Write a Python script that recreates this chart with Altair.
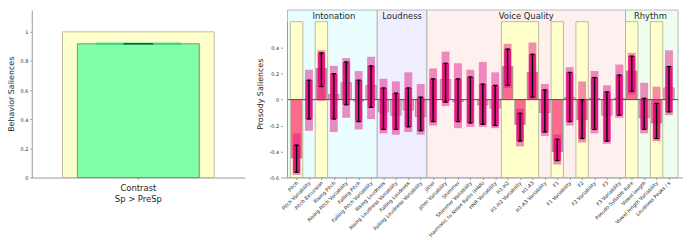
import json
import altair as alt
import pandas as pd

# ---------------- data ----------------
categories = [
    "Pitch", "Pitch Variability", "Pitch Excursion", "Rising Pitch",
    "Rising Pitch Variability", "Falling Pitch", "Falling Pitch Variability",
    "Rising Loudness", "Rising Loudness Variability", "Falling Loudness",
    "Falling Loudness Variability", "Jitter", "Jitter Variability", "Shimmer",
    "Shimmer Variability", "Harmonic to Noise Ratio (HNR)", "HNR Variability",
    "H1-H2", "H1-H2 Variability", "H1-A3", "H1-A3 Variability", "F1",
    "F1 Variability", "F2", "F2 Variability", "F3", "F3 Variability",
    "Pseudo Syllable Rate", "Vowel length", "Vowel length Variability",
    "Loudness Peaks / s",
]
means = [-0.45, 0.0, 0.24, 0.04, 0.13, -0.01, 0.11, -0.095, -0.12, -0.08, -0.13,
         0.0, 0.155, -0.015, 0.0, -0.04, -0.065, 0.255, -0.19, 0.21, -0.10,
         -0.40, 0.015, -0.155, 0.01, -0.12, 0.01, 0.22, -0.14, -0.18, 0.09]
err_lo = [-0.56, -0.15, 0.10, -0.15, -0.04, -0.17, -0.06, -0.23, -0.23, -0.21, -0.24,
          -0.17, -0.02, -0.17, -0.18, -0.19, -0.20, 0.11, -0.32, 0.02, -0.25,
          -0.47, -0.17, -0.30, -0.23, -0.32, -0.12, 0.065, -0.23, -0.30, -0.095]
err_hi = [-0.35, 0.15, 0.36, 0.20, 0.29, 0.15, 0.26, 0.09, 0.05, 0.09, 0.02,
          0.16, 0.28, 0.16, 0.175, 0.12, 0.11, 0.39, -0.105, 0.35, 0.075,
          -0.305, 0.21, 0.0, 0.17, 0.06, 0.19, 0.335, 0.01, -0.03, 0.255]
pt_min = [-0.58, -0.24, -0.01, -0.25, -0.14, -0.23, -0.15, -0.26, -0.27, -0.25, -0.27,
          -0.20, -0.05, -0.22, -0.21, -0.21, -0.22, 0.09, -0.36, 0.0, -0.28,
          -0.50, -0.20, -0.33, -0.26, -0.34, -0.14, 0.04, -0.26, -0.32, -0.12]
pt_max = [-0.26, 0.23, 0.38, 0.26, 0.32, 0.22, 0.33, 0.16, 0.14, 0.21, 0.12,
          0.24, 0.37, 0.28, 0.23, 0.29, 0.21, 0.43, -0.07, 0.44, 0.12,
          -0.27, 0.25, 0.14, 0.22, 0.11, 0.27, 0.36, 0.13, 0.10, 0.38]
highlight = [0, 2, 17, 18, 19, 21, 23, 27, 29]

groups = ["Intonation", "Loudness", "Voice Quality", "Rhythm"]
group_start = [0, 7, 11, 27]
group_end = [6, 10, 26, 30]
group_colors = ["#eafdff", "#eeeeff", "#fff0f0", "#eefff0"]

behavior_label = "Contrast|Sp > PreSp"
behavior_mean = 0.918
behavior_box = 1.0

y_ticks_right = [-0.6, -0.4, -0.2, 0, 0.2, 0.4]
y_ticks_left = [0, 0.2, 0.4, 0.6, 0.8, 1]

# ---------------- style ----------------
FONT = "DejaVu Sans"
TXT = "#262626"
AX = "#9a9a9a"
PINK_HI = "#ff6a8c"
PINK_LO = "#f7a6bf"
DOT = "#e0067c"

RW, RH = 404, 169
LW, LH = 215, 169

n = len(categories)
XMIN, XMAX = -0.73, n - 1 + 0.73
YMIN, YMAX = -0.6, 0.69
xs = alt.Scale(domain=[XMIN, XMAX], nice=False, zero=False)
ys = alt.Scale(domain=[YMIN, YMAX], nice=False, zero=False)

df = pd.DataFrame({
    "i": list(range(n)), "name": categories, "mean": means,
    "lo": err_lo, "hi": err_hi, "pmin": pt_min, "pmax": pt_max,
    "zero": [0.0] * n,
    "hl": ["yes" if i in highlight else "no" for i in range(n)],
})

bg = pd.DataFrame({
    "group": groups,
    "x1": [XMIN if k == 0 else s - 0.5 for k, s in enumerate(group_start)],
    "x2": [XMAX if k == len(groups) - 1 else e + 0.5 for k, e in enumerate(group_end)],
    "cx": [(s + e) / 2 for s, e in zip(group_start, group_end)],
    "y1": [YMIN] * len(groups), "y2": [YMAX] * len(groups),
    "ty": [(0.6 + YMAX) / 2] * len(groups), "col": group_colors,
})

runs = []
for h in sorted(highlight):
    if runs and runs[-1][1] == h - 1:
        runs[-1][1] = h
    else:
        runs.append([h, h])
hl_df = pd.DataFrame({
    "x1": [a - 0.5 for a, b in runs], "x2": [b + 0.5 for a, b in runs],
    "y1": [-0.6] * len(runs), "y2": [0.6] * len(runs),
})

lines_df = pd.DataFrame({"xa": [XMIN], "xb": [XMAX], "z": [0.0], "ya": [-0.6], "yb": [0.6]})

label_expr = json.dumps(categories) + "[round(datum.value)]"

x_axis = alt.Axis(values=list(range(n)), labelExpr=label_expr, labelAngle=-45,
                  labelAlign="right", labelBaseline="middle", labelFontSize=5.0,
                  labelPadding=2, tickSize=2, tickColor=AX, domainColor=AX,
                  labelColor=TXT, title=None, grid=False, labelOverlap=False,
                  labelBound=False, labelFlush=False)
y_axis = alt.Axis(values=y_ticks_right, labelExpr="toString(datum.value)",
                  labelFontSize=5, tickSize=2, tickColor=AX, domain=False,
                  labelColor=TXT, title="Prosody Saliences", titleFontSize=8,
                  titleFontWeight="normal", titleColor=TXT, titlePadding=4,
                  grid=False, labelPadding=2)


def X(f):
    return alt.X(f, scale=xs, axis=x_axis)


def Y(f):
    return alt.Y(f, scale=ys, axis=y_axis)


bg_layer = alt.Chart(bg).mark_rect(stroke="#a8a8a8", strokeWidth=0.8).encode(
    x=X("x1:Q"), x2="x2:Q", y=Y("y1:Q"), y2="y2:Q",
    color=alt.Color("col:N", scale=None),
)
hl_layer = alt.Chart(hl_df).mark_rect(fill="#ffffcc", stroke="#b9b394", strokeWidth=0.9).encode(
    x=X("x1:Q"), x2="x2:Q", y=Y("y1:Q"), y2="y2:Q",
)
bars = alt.Chart(df).mark_bar(width=10.5, stroke="#8c8c8c", strokeWidth=0.8).encode(
    x=X("i:Q"), y=Y("mean:Q"), y2="zero:Q",
    color=alt.Color("hl:N", scale=alt.Scale(domain=["yes", "no"], range=[PINK_HI, PINK_LO]), legend=None),
)
zero_line = alt.Chart(lines_df).mark_rule(color="#555555", strokeWidth=1).encode(
    x=X("xa:Q"), x2="xb:Q", y=Y("z:Q")
)
axis_line = alt.Chart(lines_df).mark_rule(color=AX, strokeWidth=1).encode(
    x=X("xa:Q"), y=Y("ya:Q"), y2="yb:Q"
)
cloud_outer = alt.Chart(df).mark_rule(strokeWidth=8, color=DOT, opacity=0.45, strokeCap="butt").encode(
    x=X("i:Q"), y=Y("pmin:Q"), y2="pmax:Q"
)
cloud_inner = alt.Chart(df).mark_rule(strokeWidth=7, color=DOT, opacity=0.85, strokeCap="butt").encode(
    x=X("i:Q"), y=Y("lo:Q"), y2="hi:Q"
)
err_v = alt.Chart(df).mark_rule(strokeWidth=1.4, color="black").encode(
    x=X("i:Q"), y=Y("lo:Q"), y2="hi:Q"
)
cap_lo = alt.Chart(df).mark_rule(strokeWidth=1.2, color="black", xOffset=-2.2, x2Offset=2.2).encode(
    x=X("i:Q"), x2="i:Q", y=Y("lo:Q")
)
cap_hi = alt.Chart(df).mark_rule(strokeWidth=1.2, color="black", xOffset=-2.2, x2Offset=2.2).encode(
    x=X("i:Q"), x2="i:Q", y=Y("hi:Q")
)
group_text = alt.Chart(bg).mark_text(fontSize=8.5, font=FONT, color=TXT, baseline="middle").encode(
    x=X("cx:Q"), y=Y("ty:Q"), text="group:N"
)

right = alt.layer(
    bg_layer, hl_layer, bars, zero_line, cloud_outer, cloud_inner,
    err_v, cap_lo, cap_hi, axis_line, group_text
).properties(width=RW, height=RH)

# ---------------- left panel ----------------
ldf = pd.DataFrame({"contrast": [behavior_label], "box": [behavior_box], "mean": [behavior_mean]})
xl_scale = alt.Scale(paddingInner=0, paddingOuter=0)
yl_scale = alt.Scale(domain=[0, 1.15], nice=False)
xl_axis = alt.Axis(title=None, labelExpr="split(datum.label, '|')", labelAngle=0,
                   labelFontSize=8.5, labelColor=TXT, labelPadding=4, labelLineHeight=11,
                   tickSize=2, tickColor=AX, domainColor=AX, labelBaseline="top")
yl_axis = alt.Axis(values=y_ticks_left, labelExpr="toString(datum.value)", labelFontSize=5,
                   labelColor=TXT, tickSize=2, tickColor=AX, domainColor=AX, grid=False,
                   title="Behavior Saliences", titleFontSize=8, titleFontWeight="normal",
                   titleColor=TXT, titlePadding=4, labelPadding=2)


def XL():
    return alt.X("contrast:N", scale=xl_scale, axis=xl_axis)


def YL(f):
    return alt.Y(f, scale=yl_scale, axis=yl_axis)


l_box = alt.Chart(ldf).mark_bar(width=153, fill="#ffffcc", stroke="#c2bb96", strokeWidth=1).encode(
    x=XL(), y=YL("box:Q"),
)
l_bar = alt.Chart(ldf).mark_bar(width=123, fill="#80ffa6", stroke="#8a8a8a", strokeWidth=1).encode(
    x=XL(), y=YL("mean:Q"),
)
l_pts = alt.Chart(ldf).mark_tick(size=86, thickness=2.5, color="#2ed67c", opacity=0.75).encode(
    x=XL(), y=YL("mean:Q"),
)
l_err = alt.Chart(ldf).mark_tick(size=30, thickness=1.4, color="#111111").encode(
    x=XL(), y=YL("mean:Q"),
)
left = alt.layer(l_box, l_bar, l_pts, l_err).properties(width=LW, height=LH)

chart = alt.hconcat(left, right, spacing=12).properties(padding=0).configure(
    font=FONT
).configure_view(stroke=None)

chart.save("out.html", embed_options={"renderer": "svg", "actions": False})
